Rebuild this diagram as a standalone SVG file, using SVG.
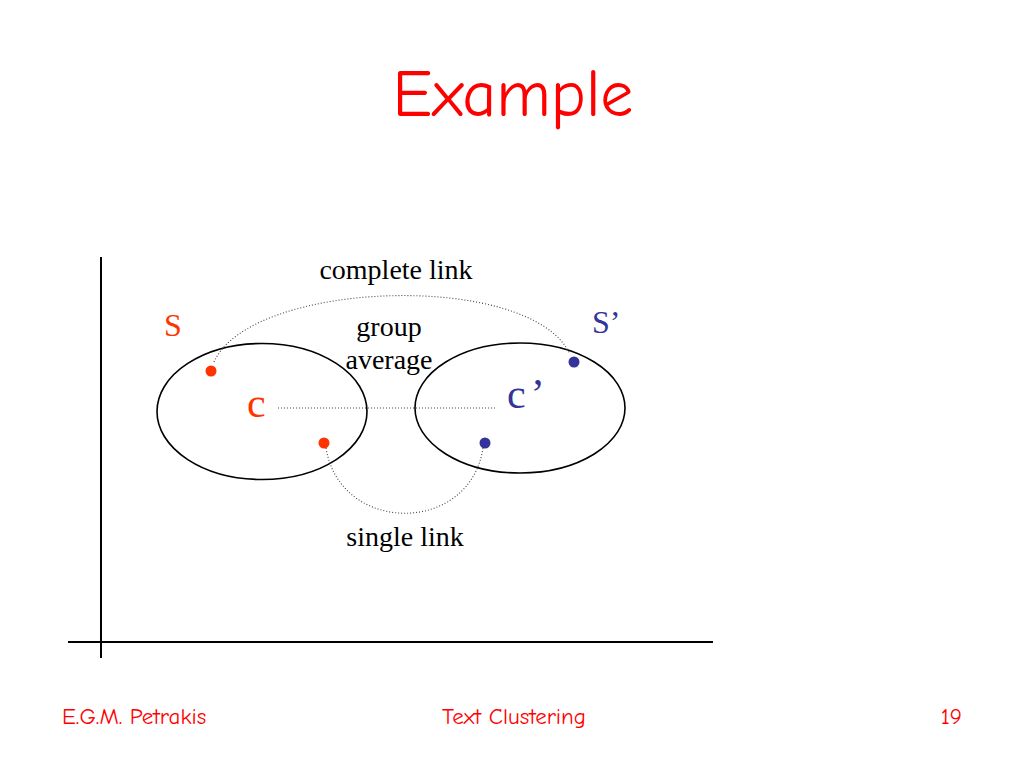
<svg xmlns="http://www.w3.org/2000/svg" width="1024" height="768" viewBox="0 0 1024 768">
<style>
.comic{font-family:"Comic Sans MS","Comic Neue","Open Sans","DejaVu Sans",sans-serif;fill:#FF0000}
.tnr{font-family:"Liberation Serif","Times New Roman",serif;fill:#000}
.red{fill:#FF3300}
.blue{fill:#333399}
.axis{stroke:#000;stroke-width:2;fill:none}
.ell{stroke:#000;stroke-width:1.6;fill:none}
.dot{stroke:#444;stroke-width:1.1;stroke-dasharray:1 2;fill:none}
</style>
<rect width="1024" height="768" fill="#fff"/>
<text class="comic" x="513" y="116" font-size="66" text-anchor="middle">Example</text>
<g id="axes">
<line class="axis" x1="101" y1="257" x2="101" y2="658"/>
<line class="axis" x1="68" y1="642" x2="713" y2="642"/>
</g>
<g id="cluster-S">
<ellipse class="ell" cx="262" cy="411.5" rx="105" ry="68"/>
<text class="tnr red" x="164" y="336" font-size="32">S</text>
<text class="tnr red" x="247" y="417" font-size="42">c</text>
<circle class="red" cx="211" cy="371" r="5.5"/>
<circle class="red" cx="324" cy="443" r="5.5"/>
</g>
<g id="cluster-S2">
<ellipse class="ell" cx="520" cy="408" rx="105" ry="65"/>
<text class="tnr blue" x="592" y="333" font-size="32">S’</text>
<text class="tnr blue" x="507" y="408" font-size="42" letter-spacing="5">c’</text>
<circle class="blue" cx="574" cy="362" r="5.5"/>
<circle class="blue" cx="485" cy="443" r="5.5"/>
</g>
<g id="connectors">
<path class="dot" d="M214,362 C250,280 530,270 570,354"/>
<line class="dot" x1="278" y1="408" x2="495" y2="408"/>
<path class="dot" d="M326,448 C340,535 470,535 483,448"/>
</g>
<g id="labels">
<text class="tnr" x="396" y="279" font-size="28" text-anchor="middle">complete link</text>
<text class="tnr" x="389" y="336" font-size="28" text-anchor="middle">group</text>
<text class="tnr" x="389" y="369" font-size="28" text-anchor="middle">average</text>
<text class="tnr" x="405" y="546" font-size="28" text-anchor="middle">single link</text>
</g>
<g id="footer">
<text class="comic" x="62" y="724" font-size="23">E.G.M. Petrakis</text>
<text class="comic" x="514" y="724" font-size="23" text-anchor="middle">Text Clustering</text>
<text class="comic" x="962" y="724" font-size="23" text-anchor="end">19</text>
</g>
</svg>
